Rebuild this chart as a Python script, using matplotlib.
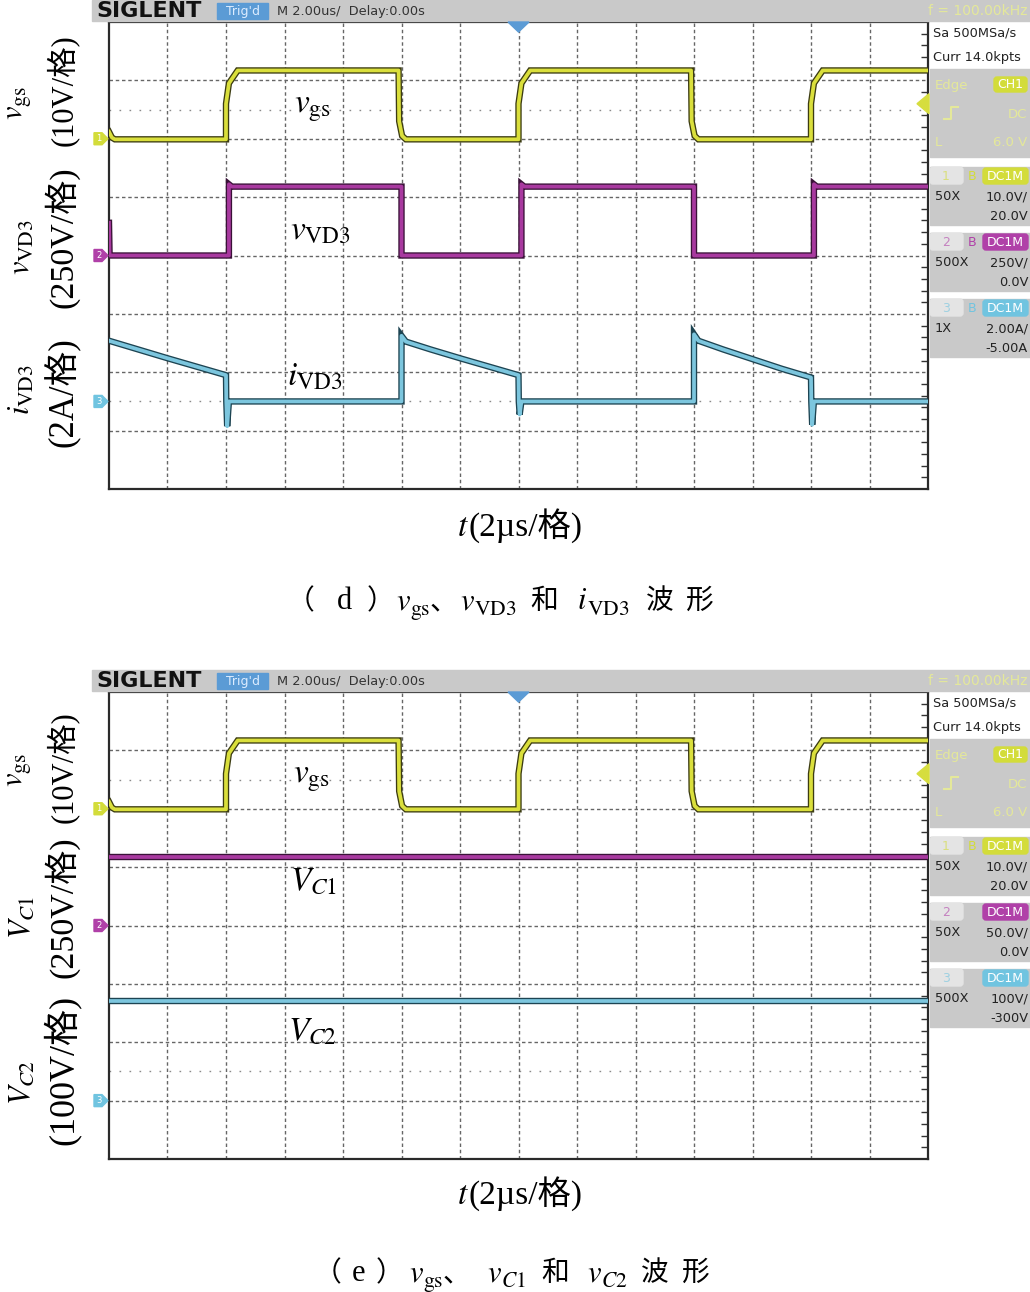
import numpy as np
import matplotlib
matplotlib.use('Agg')
import matplotlib.pyplot as plt
from matplotlib.patches import Rectangle, Polygon, FancyBboxPatch

plt.rcParams['mathtext.fontset'] = 'stix'
plt.rcParams['font.family'] = ['Liberation Serif', 'Noto Sans CJK SC', 'DejaVu Sans']

W, H = 1030, 1292

# ---------------- data ----------------
t_limits = [-14.0, 14.0]          # us, 2 us/div, trigger at centre
grid_t = [-12, -10, -8, -6, -4, -2, 0, 2, 4, 6, 8, 10, 12]
grid_div = [-3, -2, -1, 0, 1, 2, 3]

# gate voltage (V)
vgs_t = [-14.0, -13.9, -13.8, -10.0, -10.0, -9.9, -9.6, -4.1, -4.08, -3.98, -3.85,
         0.0, 0.0, 0.1, 0.4, 5.9, 5.92, 6.02, 6.15, 10.0, 10.0, 10.1, 10.4, 14.0]
vgs_v = [1.2, 0.2, -0.1, -0.1, 6.0, 9.5, 11.7, 11.7, 3.0, 0.5, -0.1,
         -0.1, 6.0, 9.5, 11.7, 11.7, 3.0, 0.5, -0.1, -0.1, 6.0, 9.5, 11.7, 11.7]

# diode VD3 voltage (V)
vvd3_t = [-14.0, -13.98, -9.9, -9.9, -9.8, -4.0, -4.0, 0.1, 0.1, 0.2,
          6.0, 6.0, 10.1, 10.1, 10.2, 14.0]
vvd3_v = [140, 0, 0, 305, 295, 295, 0, 0, 305, 295, 295, 0, 0, 305, 295, 295]

# diode VD3 current (A)
ivd3_t = [-14.0, -13.0, -12.0, -11.0, -10.0, -9.99, -9.96, -9.9, -4.0, -4.0, -3.85,
          -3.0, -2.0, -1.0, 0.0, 0.01, 0.04, 0.1, 6.0, 6.0, 6.15, 7.0, 8.0, 9.0,
          10.0, 10.01, 10.04, 10.1, 14.0]
ivd3_i = [2.08, 1.78, 1.48, 1.19, 0.90, 0.0, -0.85, 0.0, 0.0, 2.25, 2.05,
          1.78, 1.48, 1.19, 0.90, 0.0, -0.45, 0.0, 0.0, 2.30, 2.08, 1.78, 1.45, 1.12,
          0.82, 0.0, -0.80, 0.0, 0.0]

# capacitor voltages (V)
vc1_t = [-14.0, -9.9, -9.9, -4.0, -4.0, 0.1, 0.1, 6.0, 6.0, 10.1, 10.1, 14.0]
vc1_v = [58.9, 58.9, 58.3, 58.3, 58.9, 58.9, 58.3, 58.3, 58.9, 58.9, 58.3, 58.3]
vc2_t = [-14.0, 14.0]
vc2_v = [171.0, 171.0]

# channel settings: (V or A per div, offset)
d_scales = [10.0, 250.0, 2.0]
d_offsets = [20.0, 0.0, -5.0]
e_scales = [10.0, 50.0, 100.0]
e_offsets = [20.0, 0.0, -300.0]
trig_level = 6.0

d_panel_text = [("50X", "10.0V/", "20.0V"), ("500X", "250V/", "0.0V"), ("1X", "2.00A/", "-5.00A")]
e_panel_text = [("50X", "10.0V/", "20.0V"), ("50X", "50.0V/", "0.0V"), ("500X", "100V/", "-300V")]

# ---------------- styling ----------------
body_cols = ['#dadf3c', '#a8399f', '#7cc6de']
edge_cols = ['#3c3c12', '#3a1238', '#1d4452']
badge_cols = ['#d3dc3a', '#b040a8', '#70c4e0']
GRAY = '#c9c9c9'
faint_y = '#e4e89a'

fig = plt.figure(figsize=(W / 100, H / 100), dpi=100)
fig.patch.set_facecolor('white')

X0, X1 = 109, 928
PH = 467
panel_tops = [22, 692]


def px_box(x0, y0, x1, y1):
    return [x0 / W, 1 - y1 / H, (x1 - x0) / W, (y1 - y0) / H]


ov = fig.add_axes([0, 0, 1, 1])
ov.set_xlim(0, W)
ov.set_ylim(H, 0)
ov.axis('off')
ov.patch.set_alpha(0)
ov.set_zorder(5)


def div_to_px(top, pos):
    return top + (4 - pos) * PH / 8


def trace(ax, t, v, scale, offset, k):
    pos = (np.asarray(v, float) + offset) / scale
    ax.plot(t, pos, color=edge_cols[k], lw=4.6, zorder=3, solid_joinstyle='miter')
    ax.plot(t, pos, color=body_cols[k], lw=2.7, zorder=4)


def make_panel(top, scales, offsets, traces, ptext, show_b):
    ax = fig.add_axes(px_box(X0, top, X1, top + PH))
    ax.set_zorder(1)
    ax.set_xlim(*t_limits)
    ax.set_ylim(-4, 4)
    for g in grid_t:
        ax.axvline(g, color='#666666', lw=1.0, dashes=(2.5, 2.0), zorder=1)
    for g in grid_div:
        ax.axhline(g, color='#666666', lw=1.0, dashes=(2.5, 2.0), zorder=1)
    for g in [2.5, -2.5]:
        ax.axhline(g, color='#8a8a8a', lw=1.0, dashes=(1.2, 6.0), zorder=1)
    ax.set_xticks([])
    ax.set_yticks(np.arange(-4, 4.01, 0.2), minor=True)
    ax.tick_params(which='minor', left=False, right=True, direction='in', length=5,
                   color='#333333', width=1)
    ax.tick_params(which='major', left=False, bottom=False)
    ax.set_yticklabels([])
    for s in ax.spines.values():
        s.set_color('#2a2a2a')
        s.set_linewidth(1.6)
    for k, (t, v) in enumerate(traces):
        trace(ax, t, v, scales[k], offsets[k], k)

    # header bar
    ov.add_patch(Rectangle((92, top - 22), W - 92, 21, color=GRAY, zorder=1))
    ov.text(96, top - 11, "SIGLENT", fontsize=16, fontweight='bold', family='DejaVu Sans',
            color='#111111', va='center', ha='left')
    ov.add_patch(Rectangle((217, top - 19), 51, 16, color='#5b9bd5', zorder=2))
    ov.text(242.5, top - 11, "Trig'd", fontsize=9, family='DejaVu Sans', color='#dcecff',
            va='center', ha='center', zorder=3)
    ov.text(277, top - 11, "M 2.00us/  Delay:0.00s", fontsize=9.3, family='DejaVu Sans',
            color='#333333', va='center', ha='left')
    ov.text(1027, top - 11, "f = 100.00kHz", fontsize=10, family='DejaVu Sans',
            color=faint_y, va='center', ha='right')
    # trigger position marker
    ov.add_patch(Polygon([(508, top), (529, top), (518.5, top + 10)], closed=True,
                         color='#5b9bd5', zorder=6))
    # channel ground markers
    for k in range(3):
        yk = div_to_px(top, offsets[k] / scales[k])
        ov.add_patch(Polygon([(94, yk - 6), (102, yk - 6), (108, yk), (102, yk + 6), (94, yk + 6)],
                             closed=True, color=badge_cols[k], zorder=6))
        ov.text(99, yk, str(k + 1), fontsize=6, color='white', family='DejaVu Sans',
                ha='center', va='center', zorder=7)
    # trigger level marker
    yt = div_to_px(top, (trig_level + offsets[0]) / scales[0])
    ov.add_patch(Polygon([(929, yt - 10), (917, yt), (929, yt + 10)], closed=True,
                         color='#d6dd3e', zorder=6))

    # right info panel
    dy = top - 22
    ov.text(933, dy + 33, "Sa 500MSa/s", fontsize=9.3, family='DejaVu Sans', color='#222222',
            va='center', ha='left')
    ov.text(933, dy + 57, "Curr 14.0kpts", fontsize=9.3, family='DejaVu Sans', color='#222222',
            va='center', ha='left')
    ov.add_patch(Rectangle((930, dy + 69), 100, 88, color=GRAY, zorder=1))
    ov.text(935, dy + 85, "Edge", fontsize=9.5, family='DejaVu Sans', color=faint_y,
            va='center', ha='left', zorder=3)
    ov.add_patch(FancyBboxPatch((994, dy + 77), 33, 15, boxstyle='round,pad=0,rounding_size=3',
                                color=badge_cols[0], zorder=2))
    ov.text(1010.5, dy + 85, "CH1", fontsize=9, family='DejaVu Sans', color='white',
            va='center', ha='center', zorder=3)
    ov.plot([944, 951, 951, 958], [dy + 119, dy + 119, dy + 107, dy + 107], color=faint_y, lw=1.5, zorder=3)
    ov.text(1027, dy + 114, "DC", fontsize=9.5, family='DejaVu Sans', color=faint_y,
            va='center', ha='right', zorder=3)
    ov.text(935, dy + 143, "L", fontsize=9.5, family='DejaVu Sans', color=faint_y,
            va='center', ha='left', zorder=3)
    ov.text(1027, dy + 143, "6.0 V", fontsize=9.5, family='DejaVu Sans', color=faint_y,
            va='center', ha='right', zorder=3)
    for k in range(3):
        hc = dy + 176 + 66 * k
        ov.add_patch(Rectangle((930, hc - 9), 100, 58, color=GRAY, zorder=1))
        ov.add_patch(FancyBboxPatch((930, hc - 9), 33, 17, boxstyle='round,pad=0,rounding_size=3',
                                    color='#e4e4e4', zorder=2))
        ov.text(946, hc, str(k + 1), fontsize=9, family='DejaVu Sans', color=badge_cols[k],
                alpha=0.6, va='center', ha='center', zorder=3)
        if show_b[k]:
            ov.text(972, hc, "B", fontsize=9, family='DejaVu Sans', color=badge_cols[k],
                    va='center', ha='center', zorder=3)
        ov.add_patch(FancyBboxPatch((983, hc - 8), 45, 16, boxstyle='round,pad=0,rounding_size=3',
                                    color=badge_cols[k], zorder=2))
        ov.text(1005.5, hc, "DC1M", fontsize=9, family='DejaVu Sans', color='white',
                va='center', ha='center', zorder=3)
        a, b, c = ptext[k]
        ov.text(935, hc + 21, a, fontsize=9.3, family='DejaVu Sans', color='#222222',
                va='center', ha='left', zorder=3)
        ov.text(1028, hc + 21, b, fontsize=9.3, family='DejaVu Sans', color='#222222',
                va='center', ha='right', zorder=3)
        ov.text(1028, hc + 40, c, fontsize=9.3, family='DejaVu Sans', color='#222222',
                va='center', ha='right', zorder=3)
    return ax


make_panel(panel_tops[0], d_scales, d_offsets,
           [(vgs_t, vgs_v), (vvd3_t, vvd3_v), (ivd3_t, ivd3_i)], d_panel_text, [True, True, True])
make_panel(panel_tops[1], e_scales, e_offsets,
           [(vgs_t, vgs_v), (vc1_t, vc1_v), (vc2_t, vc2_v)], e_panel_text, [True, False, False])

# ---------------- labels ----------------
SER = ['Liberation Serif', 'Noto Sans CJK SC']
CJK = ['Noto Sans CJK SC', 'Liberation Serif']

# in-plot labels
inplot = [
    (294, 112, r"$v_{\mathrm{gs}}$"), (290, 240, r"$v_{\mathrm{VD3}}$"), (287, 386, r"$i_{\mathrm{VD3}}$"),
    (293, 782, r"$v_{\mathrm{gs}}$"), (290, 890, r"$V_{C\mathrm{1}}$"), (288, 1039, r"$V_{C\mathrm{2}}$"),
]
for x, y, s in inplot:
    ov.text(x, y, s, fontsize=24, ha='left', va='baseline', zorder=8)

# left rotated labels
left_math = [(19, 103, r"$v_{\mathrm{gs}}$"), (22, 247, r"$v_{\mathrm{VD3}}$"), (22, 390, r"$i_{\mathrm{VD3}}$"),
             (19, 770, r"$v_{\mathrm{gs}}$"), (22, 917, r"$V_{C\mathrm{1}}$"), (22, 1083, r"$V_{C\mathrm{2}}$")]
for x, y, s in left_math:
    ov.text(x, y, s, fontsize=22, rotation=90, ha='center', va='center')
left_unit = [(62, 90, "(10V/格)", 22), (62, 237, "(250V/格)", 24.5), (62, 392, "(2A/格)", 25),
             (62, 767, "(10V/格)", 22), (62, 907, "(250V/格)", 24.5), (62, 1070, "(100V/格)", 26)]
for x, y, s, fs in left_unit:
    ov.text(x, y, s, fontsize=fs, rotation=90, ha='center', va='center', family=SER)

renderer = fig.canvas.get_renderer()


def seq_text(xc, y, pieces):
    objs = []
    for s, kw in pieces:
        objs.append(ov.text(0, y, s, ha='left', va='baseline', **kw))
    widths = [o.get_window_extent(renderer).width for o in objs]
    x = xc - sum(widths) / 2
    for o, w in zip(objs, widths):
        o.set_x(x)
        x += w


for yb in [536, 1204]:
    seq_text(520, yb, [(r"$t$", dict(fontsize=24)), ("(2µs/格)", dict(fontsize=24, family=SER))])

# captions: pieces placed at left positions
kinds = {
    'cjk': dict(fontsize=20, family=CJK),
    'ser': dict(fontsize=22, family=SER),
    'mat': dict(fontsize=22),
    'sub': dict(fontsize=15.5),
}
cap_d = [(287, 0, "（", 'cjk'), (337, 0, "d", 'ser'), (367, 0, "）", 'cjk'),
         (396, 0, r"$v$", 'mat'), (410, 6, r"$\mathrm{gs}$", 'sub'), (430, 0, "、", 'cjk'),
         (460, 0, r"$v$", 'mat'), (474, 6, r"$\mathrm{VD3}$", 'sub'), (530, 0, "和", 'cjk'),
         (577, 0, r"$i$", 'mat'), (587, 6, r"$\mathrm{VD3}$", 'sub'),
         (646, 0, "波", 'cjk'), (686, 0, "形", 'cjk')]
cap_e = [(314, 0, "（", 'cjk'), (352, 0, "e", 'ser'), (376, 0, "）", 'cjk'),
         (409, 0, r"$v$", 'mat'), (423, 6, r"$\mathrm{gs}$", 'sub'), (443, 0, "、", 'cjk'),
         (487, 0, r"$v$", 'mat'), (501, 6, r"$C\mathrm{1}$", 'sub'), (541, 0, "和", 'cjk'),
         (587, 0, r"$v$", 'mat'), (601, 6, r"$C\mathrm{2}$", 'sub'),
         (641, 0, "波", 'cjk'), (682, 0, "形", 'cjk')]
for base, pieces in [(609, cap_d), (1281, cap_e)]:
    for x, dyb, s, kd in pieces:
        ov.text(x, base + dyb, s, ha='left', va='baseline', **kinds[kd])

fig.savefig('out.png', dpi=100, facecolor='white')
